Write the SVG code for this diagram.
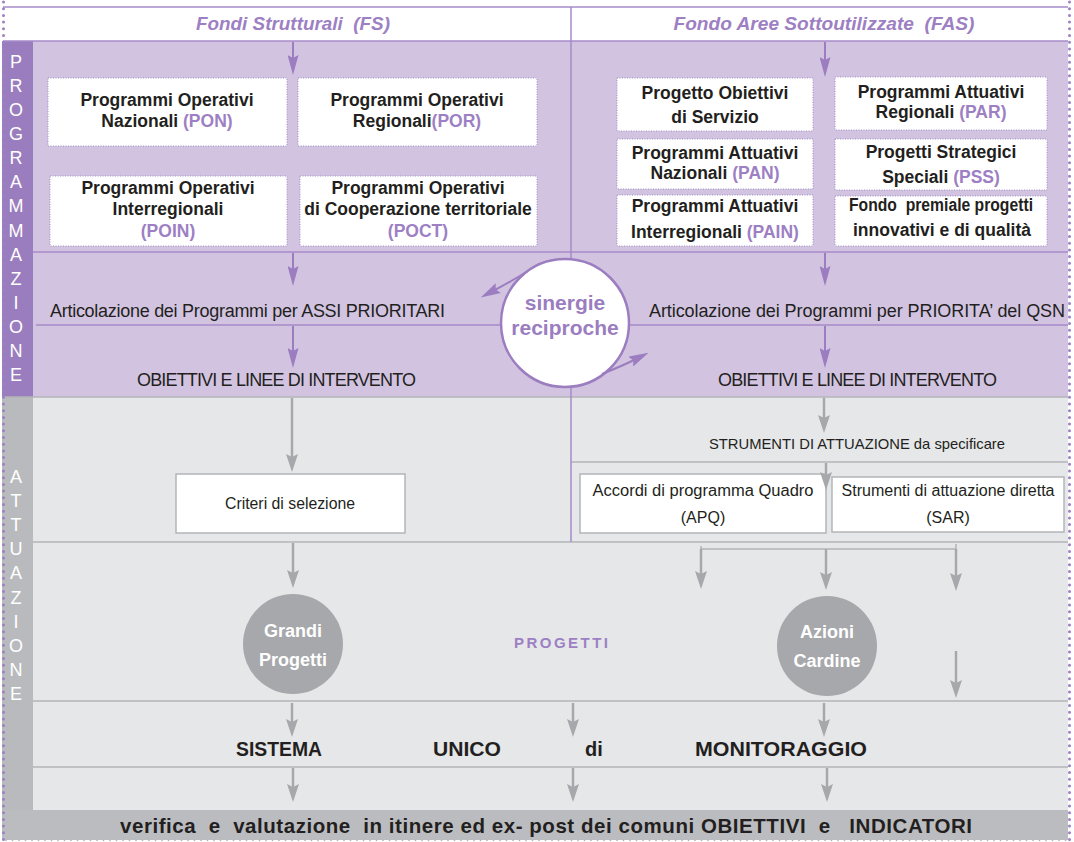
<svg xmlns="http://www.w3.org/2000/svg" width="1074" height="842" viewBox="0 0 1074 842">
<style>
.box{fill:#fff;stroke:#a28dc6;stroke-width:1;stroke-dasharray:1 1.5}
.gbox{fill:#fff;stroke:#b4b5b8;stroke-width:1.5}
.bt{font-family:"Liberation Sans",Arial,sans-serif;font-weight:bold;font-size:17.5px;fill:#231f20;text-anchor:middle}
.pp{fill:#9d80c3}
.ht{font-family:"Liberation Sans",Arial,sans-serif;font-style:italic;font-weight:bold;font-size:19px;fill:#9d80c3;text-anchor:middle}
.rt{font-family:"Liberation Sans",Arial,sans-serif;font-size:18px;fill:#231f20}
.ct{font-family:"Liberation Sans",Arial,sans-serif;font-size:16px;fill:#231f20;text-anchor:middle}
.bd{font-family:"Liberation Sans",Arial,sans-serif;font-weight:bold;font-size:20px;fill:#231f20}
.lt{font-family:"Liberation Sans",Arial,sans-serif;font-size:18px;fill:#fff;text-anchor:middle}
.wt{font-family:"Liberation Sans",Arial,sans-serif;font-weight:bold;font-size:18px;fill:#fff;text-anchor:middle}
.pl{stroke:#a68bc8;stroke-width:1.5;fill:none}
.gl{stroke:#b3b4b7;stroke-width:1.5;fill:none}
.pa{stroke:#9b7dc0;stroke-width:2;fill:none;marker-end:url(#ah)}
.ga{stroke:#a7a8ab;stroke-width:2.5;fill:none;marker-end:url(#gh)}
</style>
<defs>
<marker id="ah" viewBox="0 0 20 11" refX="6" refY="5.5" markerWidth="20" markerHeight="11" markerUnits="userSpaceOnUse" orient="auto"><path d="M0,0 L20,5.5 L0,11 L3,5.5 z" fill="#9b7dc0"/></marker>
<marker id="gh" viewBox="0 0 18 12" refX="5" refY="6" markerWidth="18" markerHeight="12" markerUnits="userSpaceOnUse" orient="auto"><path d="M0,0 L18,6 L0,12 L3,6 z" fill="#a7a8ab"/></marker>
</defs>

<g id="background">
<rect x="0" y="0" width="1074" height="842" fill="#fff"/>
<rect x="33" y="41" width="1035" height="356" fill="#d2c4e1"/>
<rect x="2" y="41" width="31" height="356" fill="#9a7dbe"/>
<rect x="33" y="397" width="1035" height="413" fill="#e6e7e9"/>
<rect x="2" y="397" width="31" height="443" fill="#b9babd"/>
<rect x="2" y="810" width="1066" height="30" fill="#bbbcbf"/>
</g>

<g id="grid-lines">
<line class="pl" x1="3" y1="7" x2="1068" y2="7"/>
<line class="pl" x1="3" y1="41" x2="1068" y2="41"/>
<line class="pl" x1="33" y1="252" x2="1068" y2="252"/>
<line class="pl" x1="36" y1="325" x2="1068" y2="325"/>
<line class="gl" x1="2" y1="397" x2="1068" y2="397"/>
<line class="gl" x1="571" y1="462" x2="1068" y2="462"/>
<line class="gl" x1="33" y1="542" x2="1068" y2="542"/>
<line class="gl" x1="33" y1="701" x2="1068" y2="701"/>
<line class="gl" x1="33" y1="767" x2="1068" y2="767"/>
<line class="pl" x1="571" y1="7" x2="571" y2="542"/>
</g>

<g id="borders">
<line x1="3.5" y1="2" x2="3.5" y2="840" stroke="#9d80c3" stroke-width="3" stroke-linecap="round" stroke-dasharray="0 6.7"/>
<line x1="1069.5" y1="2" x2="1069.5" y2="840" stroke="#9d80c3" stroke-width="3" stroke-linecap="round" stroke-dasharray="0 6.7"/>
<line x1="6" y1="840.5" x2="1066" y2="840.5" stroke="#b0b1b4" stroke-width="1.6" stroke-linecap="round" stroke-dasharray="0 6.5"/>
</g>

<g id="label-programmazione">
<text class="lt" x="16" y="68">P</text><text class="lt" x="16" y="92">R</text><text class="lt" x="16" y="116">O</text><text class="lt" x="16" y="140">G</text><text class="lt" x="16" y="164">R</text><text class="lt" x="16" y="188">A</text><text class="lt" x="16" y="212">M</text><text class="lt" x="16" y="237">M</text><text class="lt" x="16" y="261">A</text><text class="lt" x="16" y="285">Z</text><text class="lt" x="16" y="309">I</text><text class="lt" x="16" y="333">O</text><text class="lt" x="16" y="357">N</text><text class="lt" x="16" y="381">E</text>
</g>
<g id="label-attuazione">
<text class="lt" x="16" y="483">A</text><text class="lt" x="16" y="507">T</text><text class="lt" x="16" y="531">T</text><text class="lt" x="16" y="555">U</text><text class="lt" x="16" y="579">A</text><text class="lt" x="16" y="604">Z</text><text class="lt" x="16" y="628">I</text><text class="lt" x="16" y="652">O</text><text class="lt" x="16" y="676">N</text><text class="lt" x="16" y="700">E</text>
</g>

<g id="header-fs"><text class="ht" x="293" y="30" textLength="194" lengthAdjust="spacingAndGlyphs" xml:space="preserve">Fondi Strutturali  (FS)</text></g>
<g id="header-fas"><text class="ht" x="824" y="30" textLength="301" lengthAdjust="spacingAndGlyphs" xml:space="preserve">Fondo Aree Sottoutilizzate  (FAS)</text></g>

<g id="node-pon"><rect class="box" x="48" y="78" width="239" height="68"/>
<text class="bt" x="167" y="106">Programmi Operativi</text><text class="bt" x="167" y="127">Nazionali <tspan class="pp">(PON)</tspan></text></g>
<g id="node-por"><rect class="box" x="298" y="78" width="239" height="68"/>
<text class="bt" x="417" y="106">Programmi Operativi</text><text class="bt" x="417" y="127">Regionali<tspan class="pp">(POR)</tspan></text></g>
<g id="node-poin"><rect class="box" x="50" y="176" width="237" height="70"/>
<text class="bt" x="168" y="194">Programmi Operativi</text><text class="bt" x="168" y="215">Interregionali</text><text class="bt pp" x="168" y="237">(POIN)</text></g>
<g id="node-poct"><rect class="box" x="300" y="176" width="237" height="70"/>
<text class="bt" x="418" y="194">Programmi Operativi</text><text class="bt" x="418" y="215">di Cooperazione territoriale</text><text class="bt pp" x="418" y="237">(POCT)</text></g>

<g id="node-pos"><rect class="box" x="617" y="78" width="196" height="53"/>
<text class="bt" x="715" y="99">Progetto Obiettivi</text><text class="bt" x="715" y="123">di Servizio</text></g>
<g id="node-pan"><rect class="box" x="617" y="139" width="196" height="50"/>
<text class="bt" x="715" y="159" font-size="17">Programmi Attuativi</text><text class="bt" x="715" y="179" font-size="17">Nazionali <tspan class="pp">(PAN)</tspan></text></g>
<g id="node-pain"><rect class="box" x="617" y="195" width="196" height="51"/>
<text class="bt" x="715" y="212">Programmi Attuativi</text><text class="bt" x="715" y="238">Interregionali <tspan class="pp">(PAIN)</tspan></text></g>
<g id="node-par"><rect class="box" x="835" y="77" width="212" height="53"/>
<text class="bt" x="941" y="98" font-size="17">Programmi Attuativi</text><text class="bt" x="941" y="118" font-size="17">Regionali <tspan class="pp">(PAR)</tspan></text></g>
<g id="node-pss"><rect class="box" x="835" y="139" width="212" height="51"/>
<text class="bt" x="941" y="158">Progetti Strategici</text><text class="bt" x="941" y="183">Speciali <tspan class="pp">(PSS)</tspan></text></g>
<g id="node-fondo"><rect class="box" x="835" y="196" width="212" height="50"/>
<text class="bt" x="941" y="211" textLength="184" lengthAdjust="spacingAndGlyphs" xml:space="preserve">Fondo  premiale progetti</text><text class="bt" x="942" y="236" textLength="178" lengthAdjust="spacingAndGlyphs">innovativi e di qualità</text></g>

<g id="node-assi"><text class="rt" x="50" y="317" textLength="395" lengthAdjust="spacing">Articolazione dei Programmi per ASSI PRIORITARI</text></g>
<g id="node-qsn"><text class="rt" x="649" y="317" textLength="416" lengthAdjust="spacing">Articolazione dei Programmi per PRIORITA’ del QSN</text></g>
<g id="node-obiettivi-fs"><text class="rt" x="137" y="386" textLength="279" lengthAdjust="spacing">OBIETTIVI E LINEE DI INTERVENTO</text></g>
<g id="node-obiettivi-fas"><text class="rt" x="718" y="386" textLength="279" lengthAdjust="spacing">OBIETTIVI E LINEE DI INTERVENTO</text></g>

<g id="node-sinergie">
<circle cx="565" cy="323" r="64" fill="#fff" stroke="#9b7dc0" stroke-width="2.5"/>
<text x="565" y="310" font-family="Liberation Sans, Arial, sans-serif" font-weight="bold" font-size="21" fill="#9b7dc0" text-anchor="middle">sinergie</text>
<text x="565" y="335" font-family="Liberation Sans, Arial, sans-serif" font-weight="bold" font-size="21" fill="#9b7dc0" text-anchor="middle">reciproche</text>
</g>

<g id="node-criteri"><rect class="gbox" x="176" y="474" width="229" height="59"/>
<text class="ct" x="290" y="509" textLength="130" lengthAdjust="spacingAndGlyphs">Criteri di selezione</text></g>
<g id="node-strumenti"><text x="709" y="449" font-family="Liberation Sans, Arial, sans-serif" font-size="14.5" fill="#231f20" textLength="296" lengthAdjust="spacingAndGlyphs">STRUMENTI DI ATTUAZIONE da specificare</text></g>
<g id="node-apq"><rect class="gbox" x="580" y="474" width="246" height="59"/>
<text class="ct" x="703" y="496" textLength="221" lengthAdjust="spacingAndGlyphs">Accordi di programma Quadro</text><text class="ct" x="703" y="523">(APQ)</text></g>
<g id="node-sar"><rect class="gbox" x="832" y="477" width="232" height="55"/>
<text class="ct" x="948" y="496" textLength="213" lengthAdjust="spacingAndGlyphs">Strumenti di attuazione diretta</text><text class="ct" x="948" y="523">(SAR)</text></g>

<g id="node-grandi"><circle cx="293" cy="644" r="50" fill="#a7a8ab"/>
<text class="wt" x="293" y="637">Grandi</text><text class="wt" x="293" y="666">Progetti</text></g>
<g id="node-progetti"><text x="514" y="648" font-family="Liberation Sans, Arial, sans-serif" font-weight="bold" font-size="15" fill="#9d80c3" textLength="94" lengthAdjust="spacing">PROGETTI</text></g>
<g id="node-azioni"><circle cx="827" cy="646" r="50" fill="#a7a8ab"/>
<text class="wt" x="827" y="638">Azioni</text><text class="wt" x="827" y="667">Cardine</text></g>

<g id="node-monitoraggio">
<text class="bd" x="236" y="756" textLength="86" lengthAdjust="spacingAndGlyphs">SISTEMA</text>
<text class="bd" x="433" y="756" textLength="68" lengthAdjust="spacingAndGlyphs">UNICO</text>
<text class="bd" x="585" y="756">di</text>
<text class="bd" x="695" y="756" textLength="172" lengthAdjust="spacingAndGlyphs">MONITORAGGIO</text>
</g>
<g id="node-verifica"><text x="120" y="833" font-family="Liberation Sans, Arial, sans-serif" font-weight="bold" font-size="20.5" fill="#231f20" textLength="852" lengthAdjust="spacing" xml:space="preserve">verifica  e  valutazione  in itinere ed ex- post dei comuni OBIETTIVI  e   INDICATORI</text></g>

<g id="connectors">
<line class="pa" x1="293" y1="42" x2="293" y2="61"/>
<line class="pa" x1="825" y1="42" x2="825" y2="63"/>
<line class="pa" x1="293" y1="253" x2="293" y2="272"/>
<line class="pa" x1="293" y1="326" x2="293" y2="354"/>
<line class="pa" x1="825" y1="253" x2="825" y2="272"/>
<line class="pa" x1="825" y1="326" x2="825" y2="354"/>
<path class="pa" d="M528,271 Q510,282 493,291"/>
<path class="pa" d="M602,374 Q622,366 636,359"/>
<line class="ga" x1="292" y1="398" x2="292" y2="459"/>
<line class="ga" x1="824" y1="398" x2="824" y2="420"/>
<line class="ga" x1="826" y1="463" x2="826" y2="477"/>
<polyline class="gl" points="701,546 701,549 956,549 956,544" stroke-width="2"/>
<line class="ga" x1="701" y1="549" x2="701" y2="576"/>
<line class="ga" x1="826" y1="549" x2="826" y2="577"/>
<line class="ga" x1="956" y1="549" x2="956" y2="578"/>
<line class="ga" x1="956" y1="651" x2="956" y2="685"/>
<line class="ga" x1="293" y1="543" x2="293" y2="575"/>
<line class="ga" x1="292" y1="703" x2="292" y2="724"/>
<line class="ga" x1="573" y1="703" x2="573" y2="724"/>
<line class="ga" x1="824" y1="703" x2="824" y2="724"/>
<line class="ga" x1="293" y1="768" x2="293" y2="789"/>
<line class="ga" x1="573" y1="768" x2="573" y2="789"/>
<line class="ga" x1="827" y1="768" x2="827" y2="789"/>
</g>
</svg>
